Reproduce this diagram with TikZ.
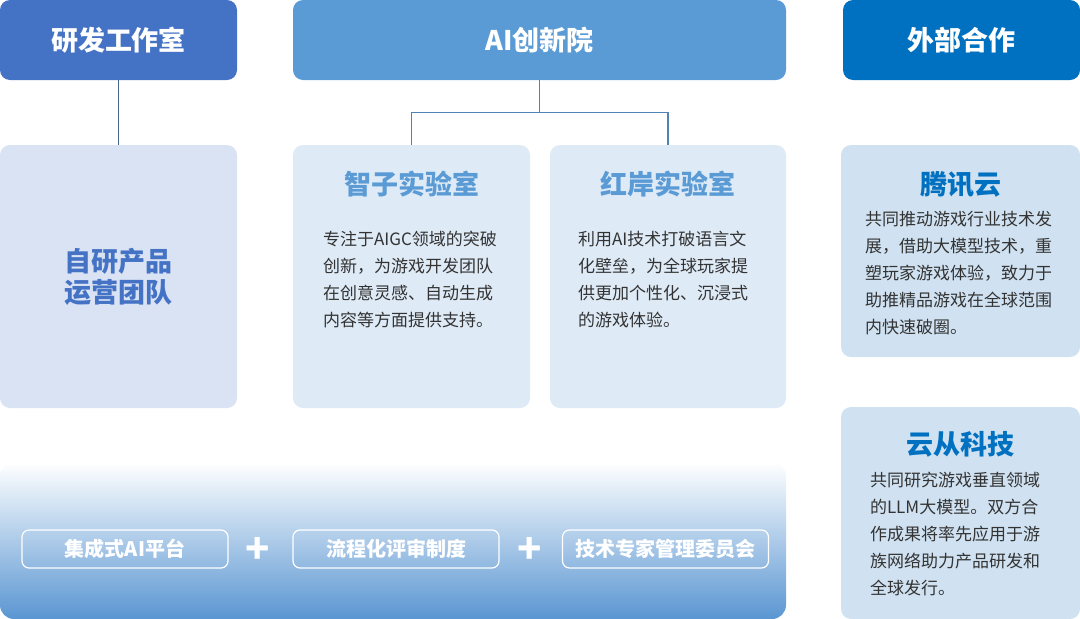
\documentclass[tikz,border=0pt]{standalone}
\usepackage{fontspec}
\setmainfont{Noto Sans CJK SC}
\usetikzlibrary{positioning}
\definecolor{studioblue}{RGB}{68,114,196}
\definecolor{aiblue}{RGB}{91,155,213}
\definecolor{partblue}{RGB}{0,112,192}
\definecolor{studiofill}{RGB}{218,227,243}
\definecolor{labfill}{RGB}{222,234,246}
\definecolor{partfill}{RGB}{208,226,242}
\definecolor{bandblue}{RGB}{90,150,210}
\definecolor{bodygray}{RGB}{51,51,51}
\definecolor{linkgray}{RGB}{72,102,140}
\definecolor{linkblue}{RGB}{80,130,180}

\begin{document}
\begin{tikzpicture}[x=1pt,y=-1pt]
  \tikzset{
    headbox/.style={rounded corners=10pt, minimum height=80pt, inner sep=0pt, text=white, font=\fontsize{27}{30}\selectfont\bfseries},
    card/.style={rounded corners=10pt, inner sep=0pt},
    cardtitle/.style={font=\fontsize{27}{31}\selectfont\bfseries, inner sep=0pt, align=center},
    cardtext/.style={font=\fontsize{17}{27}\selectfont, text=bodygray, align=left, inner sep=0pt},
    band/.style={rounded corners=14pt, inner sep=0pt, top color=white, bottom color=bandblue},
    pill/.style={draw=white, line width=1.2pt, rounded corners=7pt, minimum width=206pt, minimum height=38pt, inner sep=0pt, text=white, font=\fontsize{20}{22}\selectfont\bfseries},
    plus/.style={text=white, font=\fontsize{40}{40}\selectfont\bfseries, inner sep=0pt},
    link/.style={line width=1.3pt}
  }
  \useasboundingbox (0,0) rectangle (1080,619);
  % top row
  \node[headbox, fill=studioblue, minimum width=237pt] (studio) at (118.5,40) {研发工作室};
  \node[headbox, fill=aiblue, minimum width=493pt] (ai) at (539.5,40) {AI创新院};
  \node[headbox, fill=partblue, minimum width=237pt] (partner) at (961.5,40) {外部合作};
  % cards
  \node[card, fill=studiofill, minimum width=237pt, minimum height=263pt] (team) at (118.5,276.5) {};
  \node[card, fill=labfill, minimum width=237pt, minimum height=263pt] (zhizi) at (411.5,276.5) {};
  \node[card, fill=labfill, minimum width=236pt, minimum height=263pt] (hongan) at (668,276.5) {};
  \node[card, fill=partfill, minimum width=239pt, minimum height=212pt] (tencent) at (960.5,251) {};
  \node[card, fill=partfill, minimum width=239pt, minimum height=212pt] (cloudwalk) at (960.5,513) {};
  \node[cardtitle, text=studioblue] at (team) {自研产品\\运营团队};
  \node[cardtitle, text=aiblue, below=26pt of zhizi.north] (zhiziT) {智子实验室};
  \node[cardtitle, text=aiblue, below=26pt of hongan.north] (honganT) {红岸实验室};
  \node[cardtitle, text=partblue, below=26pt of tencent.north] (tencentT) {腾讯云};
  \node[cardtitle, text=partblue, below=24pt of cloudwalk.north] (cloudwalkT) {云从科技};
  \node[cardtext, below right=86pt and 30pt of zhizi.north west] (zhiziB)
    {专注于AIGC领域的突破\\创新，为游戏开发团队\\在创意灵感、自动生成\\内容等方面提供支持。};
  \node[cardtext, below right=86pt and 28pt of hongan.north west] (honganB)
    {利用AI技术打破语言文\\化壁垒，为全球玩家提\\供更加个性化、沉浸式\\的游戏体验。};
  \node[cardtext, below right=66pt and 24pt of tencent.north west] (tencentB)
    {共同推动游戏行业技术发\\展，借助大模型技术，重\\塑玩家游戏体验，致力于\\助推精品游戏在全球范围\\内快速破圈。};
  \node[cardtext, below right=65pt and 29pt of cloudwalk.north west] (cloudwalkB)
    {共同研究游戏垂直领域\\的LLM大模型。双方合\\作成果将率先应用于游\\族网络助力产品研发和\\全球发行。};
  % connectors
  \draw[link, draw=linkgray] (studio.south) -- (team.north);
  \draw[link, draw=linkblue] (ai.south) -- ++(0,32) coordinate (fork) -| (zhizi.north);
  \draw[link, draw=linkblue] (fork) -| (hongan.north);
  % bottom band
  \node[band, minimum width=786pt, minimum height=157pt] (base) at (393,540.5) {};
  \node[pill] (platform) at (125,549) {集成式AI平台};
  \node[pill] (review) at (396,549) {流程化评审制度};
  \node[pill] (expert) at (665.5,549) {技术专家管理委员会};
  \node[plus] (plusA) at (258,550) {+};
  \node[plus] (plusB) at (530,550) {+};
\end{tikzpicture}
\end{document}
